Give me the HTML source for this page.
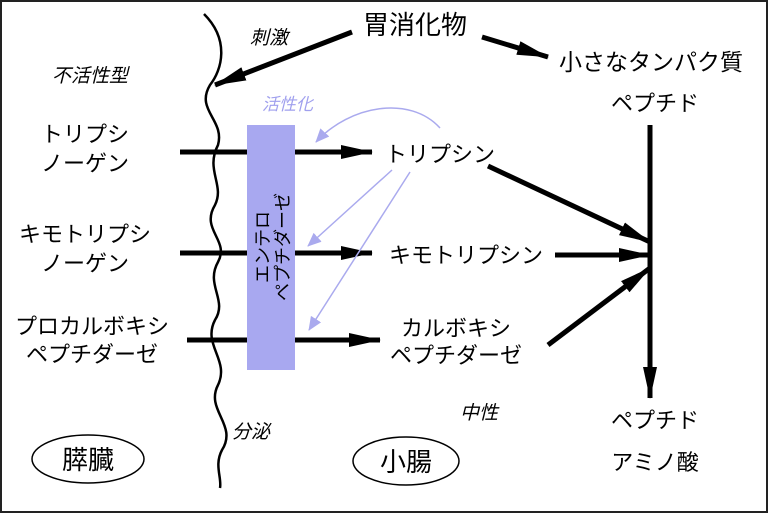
<!DOCTYPE html>
<html><head><meta charset="utf-8"><style>
html,body{margin:0;padding:0;background:#fff}
svg{display:block}
text{font-family:"Liberation Sans","Noto Sans CJK JP",sans-serif;fill:#000}
.it{font-style:italic}
</style></head><body>
<svg width="768" height="513" viewBox="0 0 768 513" xmlns="http://www.w3.org/2000/svg">
<defs>
<marker id="al" markerWidth="32" markerHeight="16" refX="31" refY="8" orient="auto" markerUnits="userSpaceOnUse"><path d="M0,1 L32,8 L0,15 Z" fill="#000"/></marker>
<marker id="ab" markerWidth="14" markerHeight="12" refX="13" refY="6" orient="auto" markerUnits="userSpaceOnUse"><path d="M0,0 L14,6 L0,12 Z" fill="#aaaaee"/></marker>
</defs>
<rect x="1" y="1" width="766" height="511" fill="none" stroke="#222" stroke-width="2"/>
<path d="M204,14 C230,40 222,70 210,85 C195,110 225,120 218,145 C205,170 225,185 215,205 C200,230 230,240 218,262 C205,285 228,300 215,320 C202,345 230,360 218,385 C205,410 238,425 222,450 C214,465 222,478 220,488" fill="none" stroke="#000" stroke-width="2.5"/>
<rect x="247" y="125" width="48" height="245" fill="#a8a8f0"/>
<g transform="translate(272,247) rotate(-90)">
<text x="0" y="-3" font-size="18" text-anchor="middle">エンテロ</text>
<text x="0" y="17" font-size="18" text-anchor="middle">ペプチダーゼ</text>
</g>
<line x1="180" y1="152" x2="247" y2="152" stroke="#000" stroke-width="5"/>
<line x1="295" y1="152" x2="372" y2="152" stroke="#000" stroke-width="5" marker-end="url(#al)"/>
<line x1="180" y1="253" x2="247" y2="253" stroke="#000" stroke-width="5"/>
<line x1="295" y1="253" x2="372" y2="253" stroke="#000" stroke-width="5" marker-end="url(#al)"/>
<line x1="187" y1="340" x2="247" y2="340" stroke="#000" stroke-width="5"/>
<line x1="295" y1="340" x2="380" y2="340" stroke="#000" stroke-width="5" marker-end="url(#al)"/>
<line x1="352" y1="32" x2="215" y2="85" stroke="#000" stroke-width="5" marker-end="url(#al)"/>
<line x1="482" y1="37" x2="548" y2="57" stroke="#000" stroke-width="5" marker-end="url(#al)"/>
<line x1="488" y1="166" x2="650" y2="242" stroke="#000" stroke-width="5" marker-end="url(#al)"/>
<line x1="555" y1="255" x2="650" y2="255" stroke="#000" stroke-width="5" marker-end="url(#al)"/>
<line x1="548" y1="345" x2="650" y2="268" stroke="#000" stroke-width="5" marker-end="url(#al)"/>
<line x1="650" y1="125" x2="650" y2="398" stroke="#000" stroke-width="5" marker-end="url(#al)"/>
<path d="M440,128 C410,95 350,105 316,142" fill="none" stroke="#aaaaee" stroke-width="1.5" marker-end="url(#ab)"/>
<line x1="392" y1="170" x2="308" y2="246" stroke="#aaaaee" stroke-width="1.5" marker-end="url(#ab)"/>
<line x1="410" y1="172" x2="309" y2="330" stroke="#aaaaee" stroke-width="1.5" marker-end="url(#ab)"/>
<text x="262" y="110" font-size="17" class="it" style="fill:#a0a0ee">活性化</text>
<text x="415" y="34" font-size="26" text-anchor="middle">胃消化物</text>
<text x="250" y="44" font-size="19" class="it">刺激</text>
<text x="651" y="70" font-size="23" text-anchor="middle">小さなタンパク質</text>
<text x="655" y="111" font-size="22" text-anchor="middle">ペプチド</text>
<text x="90" y="82" font-size="19" class="it" text-anchor="middle">不活性型</text>
<text x="85" y="142" font-size="22" text-anchor="middle">トリプシ</text>
<text x="85" y="171" font-size="22" text-anchor="middle">ノーゲン</text>
<text x="85" y="242" font-size="22" text-anchor="middle">キモトリプシ</text>
<text x="85" y="271" font-size="22" text-anchor="middle">ノーゲン</text>
<text x="92" y="334" font-size="22" text-anchor="middle">プロカルボキシ</text>
<text x="92" y="362" font-size="22" text-anchor="middle">ペプチダーゼ</text>
<text x="440" y="162" font-size="22" text-anchor="middle">トリプシン</text>
<text x="466" y="263" font-size="22" text-anchor="middle">キモトリプシン</text>
<text x="456" y="336" font-size="22" text-anchor="middle">カルボキシ</text>
<text x="456" y="363" font-size="22" text-anchor="middle">ペプチダーゼ</text>
<text x="655" y="428" font-size="22" text-anchor="middle">ペプチド</text>
<text x="655" y="470" font-size="22" text-anchor="middle">アミノ酸</text>
<text x="232" y="438" font-size="19" class="it">分泌</text>
<text x="460" y="419" font-size="19" class="it">中性</text>
<ellipse cx="88" cy="459" rx="56" ry="24" fill="none" stroke="#000" stroke-width="1.5"/>
<text x="88" y="469" font-size="26" text-anchor="middle">膵臓</text>
<ellipse cx="406" cy="461" rx="53" ry="24" fill="none" stroke="#000" stroke-width="1.5"/>
<text x="406" y="471" font-size="26" text-anchor="middle">小腸</text>
</svg>
</body></html>
